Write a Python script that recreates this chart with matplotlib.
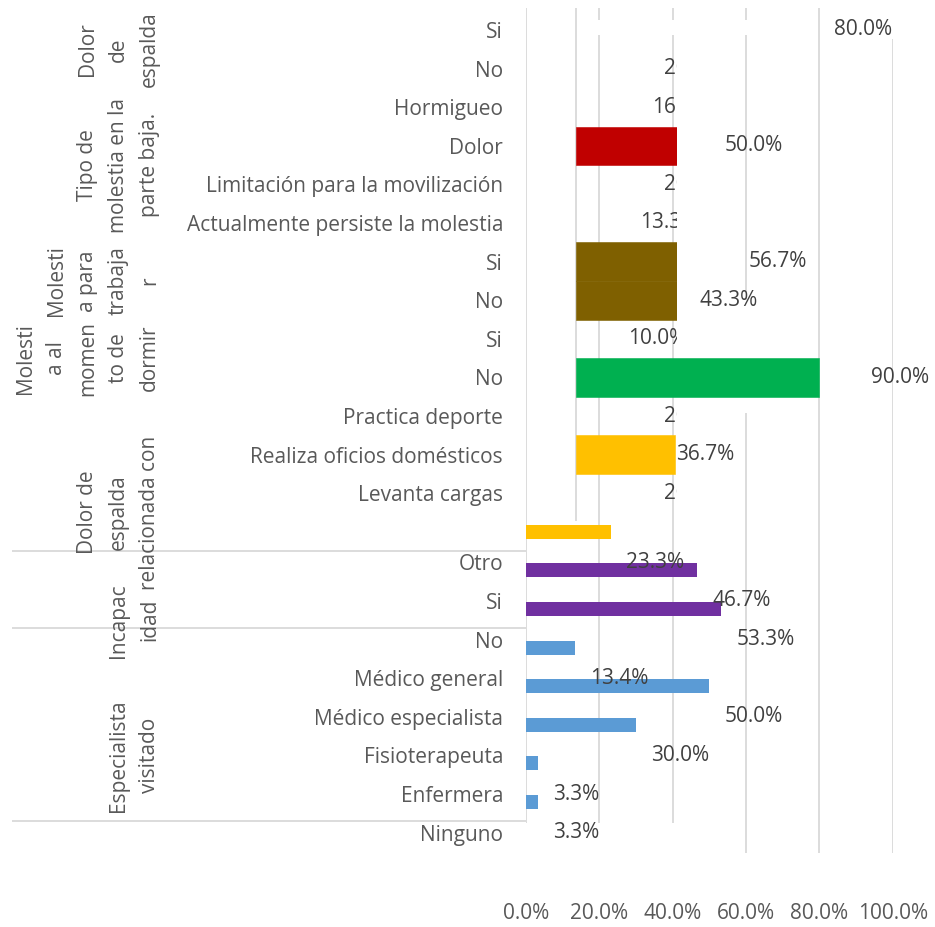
import matplotlib
matplotlib.use("Agg")
import matplotlib.pyplot as plt
from matplotlib.transforms import ScaledTranslation

plt.rcParams['font.family'] = ['Open Sans', 'DejaVu Sans']

# ---------------------------------------------------------------- data
categories = [
    "Si", "No", "Hormigueo", "Dolor", "Limitación para la movilización",
    "Actualmente persiste la molestia", "Si", "No", "Si", "No",
    "Practica deporte", "Realiza oficios domésticos", "Levanta cargas", "",
    "Otro", "Si", "No", "Médico general", "Médico especialista",
    "Fisioterapeuta", "Enfermera", "Ninguno",
]

group_labels = [
    "Dolor\nde\nespalda",
    "Tipo de\nmolestia en la\nparte baja.",
    "Molesti\na para\ntrabaja\nr",
    "Molesti\na al\nmomen\nto de\ndormir",
    "Dolor de\nespalda\nrelacionada con",
    "Incapac\nidad",
    "Especialista\nvisitado",
]
group_first_row = [0, 2, 6, 8, 10, 15, 17]
group_last_row = [1, 5, 7, 9, 15, 16, 21]

# upper block: one share per category row 0..12
upper_rows = list(range(13))
upper_values = [0.800, 0.200, 0.167, 0.500, 0.200, 0.133,
                0.567, 0.433, 0.100, 0.900, 0.200, 0.367, 0.200]
upper_bar_colors = [None, None, None, "#C00000", None, None,
                    "#7F6000", "#7F6000", None, "#00B050", None, "#FFC000", None]
# labels that sit inside the upper panel and get cut at its edge
upper_label_inner = [False, True, True, False, True, True,
                     False, False, True, False, True, False, True]

# lower block
lower_rows = [13, 14, 15, 16, 17, 18, 19, 20]
lower_values = [0.233, 0.467, 0.533, 0.134, 0.500, 0.300, 0.033, 0.033]
lower_colors = ["#FFC000", "#7030A0", "#7030A0", "#5B9BD5",
                "#5B9BD5", "#5B9BD5", "#5B9BD5", "#5B9BD5"]

xticks = [0.0, 0.2, 0.4, 0.6, 0.8, 1.0]

# ---------------------------------------------------------------- layout (pixels)
W, H, DPI = 935, 927, 100
AX_L, AX_R, AX_T, AX_B = 526, 892.7, 8, 853
OV_L, OV_R, OV_T, OV_B = 576, 677, 8, 521
ROW0, ROWH = 30.0, 38.6
UPPER_PX_PER_UNIT = 270.0
LOW_SHIFT = 8          # lower block texts sit a little higher
LABEL_GAP = 15
FS = 15.0
TXT = "#595959"
VAL = "#404040"
GRID = "#D9D9D9"
GLW = 1.3


def row_of(px):
    return (px - ROW0) / ROWH


def frac_box(l, r, t, b):
    return [l / W, 1 - b / H, (r - l) / W, (b - t) / H]


fig = plt.figure(figsize=(W / DPI, H / DPI), dpi=DPI)
ax = fig.add_axes(frac_box(AX_L, AX_R, AX_T, AX_B))
ax.set_xlim(0, 1)
ax.set_ylim(row_of(AX_B), row_of(AX_T))
for s in ax.spines.values():
    s.set_visible(False)

ax.set_xticks(xticks, [f"{t * 100:.1f}%" for t in xticks])
ytick_pos = [r - (LOW_SHIFT / ROWH if r >= 14 else 0) for r in range(len(categories))]
ax.set_yticks(ytick_pos, categories)
ax.tick_params(length=0, labelsize=FS, labelcolor=TXT)
ax.tick_params(axis="x", pad=36)
ax.tick_params(axis="y", pad=16.5)

# vertical gridlines (some segments are hidden behind other elements)
grid_segments = {
    0.0: [(8, 823)],
    0.2: [(8, 20), (35, 823)],
    0.4: [(8, 20), (35, 823)],
    0.6: [(8, 20), (35, 300), (413, 853)],
    0.8: [(8, 853)],
    1.0: [(39, 853)],
}
for x, segs in grid_segments.items():
    for a, b in segs:
        ax.plot([x, x], [row_of(a), row_of(b)], color=GRID, lw=GLW,
                zorder=0.5, solid_capstyle="butt")

# group separators on the category axis
sep_rows = [13.5, 15.5, 20.5]
ytr = ax.get_yaxis_transform()
for r in sep_rows:
    ax.plot([(12 - AX_L) / (AX_R - AX_L), 0], [r, r], color=GRID, lw=GLW,
            transform=ytr, clip_on=False, solid_capstyle="butt")

# group titles (rotated)
for g, a, b in zip(group_labels, group_first_row, group_last_row):
    shift = LOW_SHIFT if a >= 13 else 0
    ax.text((160 - AX_L) / (AX_R - AX_L), (a + b) / 2, g,
            transform=ytr + ScaledTranslation(0, shift / DPI, fig.dpi_scale_trans),
            rotation=90, ha="right", va="center", multialignment="center",
            linespacing=1.62, fontsize=FS, color=TXT, clip_on=False)

# lower block bars and their labels
ax.barh(lower_rows, lower_values, height=14 / ROWH, color=lower_colors, zorder=2)
low_off = ax.transData + ScaledTranslation(LABEL_GAP / DPI, LOW_SHIFT / DPI, fig.dpi_scale_trans)
for r, v in zip(lower_rows, lower_values):
    ax.text(v, r + 1, f"{v * 100:.1f}%", transform=low_off, ha="left", va="center",
            fontsize=FS, color=VAL, zorder=5)

# upper block on its own axes
ov = fig.add_axes(frac_box(OV_L, OV_R, OV_T, OV_B), facecolor="none")
ov.set_xlim(0, (OV_R - OV_L) / UPPER_PX_PER_UNIT)
ov.set_ylim(row_of(OV_B), row_of(OV_T))
ov.set_xticks([])
ov.set_yticks([])
for s in ov.spines.values():
    s.set_visible(False)
ov.plot([0, 0], [row_of(OV_B), row_of(OV_T)], color=GRID, lw=GLW, zorder=0.5,
        clip_on=False, solid_capstyle="butt")

main_off = ax.transData + ScaledTranslation(LABEL_GAP / DPI, 0, fig.dpi_scale_trans)
inner_off = ax.transData + ScaledTranslation((OV_L - AX_L + LABEL_GAP) / DPI, 0,
                                             fig.dpi_scale_trans)
for r, v, c, inner in zip(upper_rows, upper_values, upper_bar_colors, upper_label_inner):
    label = f"{v * 100:.1f}%"
    if c is not None:
        bar = ov.barh(r, v, height=1.0, color=c, edgecolor=c, lw=0.4, zorder=2)
        if v > 0.8:
            bar[0].set_clip_on(False)
    if inner:
        ov.text(v, r, label, transform=inner_off, ha="left", va="center",
                fontsize=FS, color=VAL, clip_on=True)
    else:
        ax.text(v, r, label, transform=main_off, ha="left", va="center",
                fontsize=FS, color=VAL, zorder=5)

fig.savefig("out.png", dpi=DPI)
